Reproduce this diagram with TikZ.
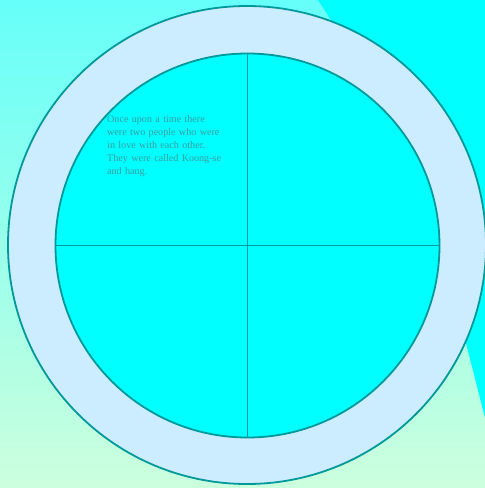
\documentclass[tikz,border=0pt]{standalone}
\usepackage{fontspec}
\setmainfont{Liberation Serif}
\definecolor{bgtop}{HTML}{66FFFA}
\definecolor{bgbot}{HTML}{CCFFDD}
\definecolor{aqua}{HTML}{00FFFF}
\definecolor{ring}{HTML}{CCECFF}
\definecolor{teal2}{HTML}{009999}
\definecolor{txt}{HTML}{3A9E9E}
\tikzset{
  edge/.style={draw=teal2, line width=1.8pt},
  story/.style={text=txt, font=\fontsize{10.1}{13}\selectfont, align=left, anchor=north west, inner sep=0pt, text width=130pt}
}
\begin{document}
\begin{tikzpicture}[x=1pt,y=-1pt]
\useasboundingbox (0,0) rectangle (485,488);
\shade[top color=bgtop, bottom color=bgbot] (0,0) rectangle (485,488);
\fill[aqua] (318,0) -- (485,0) -- (485,418) -- (418,154) -- cycle;
\begin{scope}
\clip (0,0) rectangle (485,488);
\node[circle, edge, fill=ring, minimum size=478pt, inner sep=0pt] (outer) at (247,245) {};
\end{scope}
\node[circle, edge, fill=aqua, minimum size=384pt, inner sep=0pt] (inner) at (247.5,245.5) {};
\draw[edge] (inner.north) -- (inner.south);
\draw[edge] (inner.west) -- (inner.east);
\node[story] (tale) at (107,115.5) {Once upon a time there\\were two people who were\\in love with each other.\\They were called Koong-se\\and hang.};
\end{tikzpicture}
\end{document}
